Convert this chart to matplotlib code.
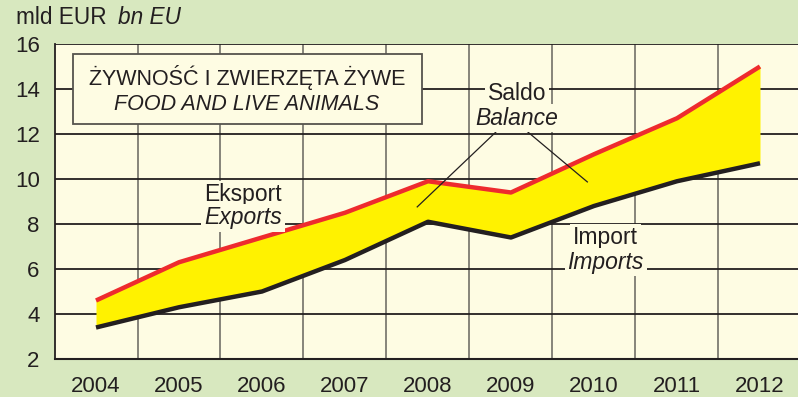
import numpy as np
import matplotlib.pyplot as plt
from matplotlib.patches import Rectangle

# ---------------------------------------------------------
# DATA (mld EUR)
# ---------------------------------------------------------
years = [2004, 2005, 2006, 2007, 2008, 2009, 2010, 2011, 2012]
exports = [4.6, 6.3, 7.4, 8.5, 9.9, 9.4, 11.1, 12.7, 15.0]
imports = [3.4, 4.3, 5.0, 6.4, 8.1, 7.4, 8.8, 9.9, 10.7]
y_ticks = [2, 4, 6, 8, 10, 12, 14, 16]

# ---------------------------------------------------------
# STYLE
# ---------------------------------------------------------
BG = '#d8e8bf'
PLOT_BG = '#fefce3'
YELLOW = '#fff200'
RED = '#ee2b2e'
DARK = '#231f20'
GRID_V = '#7d7b72'

plt.rcParams['font.family'] = ['Liberation Sans', 'DejaVu Sans']

fig = plt.figure(figsize=(7.98, 3.97), dpi=100, facecolor=BG)
ax = fig.add_axes([55 / 798, 1 - 359 / 397, 743 / 798, 315 / 397])
ax.set_facecolor(PLOT_BG)

ax.set_xlim(2003.506, 2012.458)
ax.set_ylim(2, 16)

# grid: dark horizontal lines, grey vertical lines between years
for y in y_ticks[1:]:
    ax.axhline(y, color=DARK, lw=1.3, zorder=1)
for x in np.arange(2004.5, 2012.5, 1.0):
    ax.axvline(x, color=GRID_V, lw=1.3, zorder=0.9)

ax.fill_between(years, imports, exports, color=YELLOW, lw=0, zorder=2)
ax.plot(years, exports, color=RED, lw=3.2, zorder=3, solid_capstyle='butt')
ax.plot(years, imports, color=DARK, lw=3.2, zorder=3, solid_capstyle='butt')

for side in ['top', 'right']:
    ax.spines[side].set_visible(False)
ax.spines['left'].set_color(DARK)
ax.spines['bottom'].set_color(DARK)
ax.spines['left'].set_linewidth(1.3)
ax.spines['bottom'].set_linewidth(1.5)

ax.set_xticks(years)
ax.set_xticklabels([str(y) for y in years])
ax.set_yticks(y_ticks)
ax.tick_params(axis='both', length=0, labelsize=16, colors=DARK)
ax.tick_params(axis='x', pad=12)
ax.tick_params(axis='y', pad=11)

# title box
ax.add_patch(Rectangle((0.0238, 0.745), 0.4697, 0.222, transform=ax.transAxes,
                       facecolor=PLOT_BG, edgecolor='#55534d', lw=1.3, zorder=4))
ax.text(2005.82, 14.53, 'ŻYWNOŚĆ I ZWIERZĘTA ŻYWE', ha='center', va='center',
        fontsize=15.5, color=DARK, zorder=5)
ax.text(2005.82, 13.29, 'FOOD AND LIVE ANIMALS', ha='center', va='center',
        fontsize=15.5, style='italic', color=DARK, zorder=5)

# series labels with background patches over the grid
label_box = dict(facecolor=PLOT_BG, edgecolor='none', pad=2)


def two_line_label(x, y_top, y_bot, top, bottom):
    ax.text(x, y_top, top, ha='center', va='center', fontsize=16.5,
            color=DARK, zorder=5, bbox=label_box)
    ax.text(x, y_bot, bottom, ha='center', va='center', fontsize=16.5,
            style='italic', color=DARK, zorder=5, bbox=label_box)


two_line_label(2005.77, 9.29, 8.27, 'Eksport', 'Exports')
two_line_label(2009.07, 13.78, 12.71, 'Saldo', 'Balance')
two_line_label(2010.14, 7.38, 6.31, 'Import', 'Imports')

# leader lines from "Balance" into the filled area
ax.plot([2008.83, 2007.87], [12.13, 8.76], color=DARK, lw=0.9, zorder=4)
ax.plot([2009.19, 2009.92], [12.13, 9.87], color=DARK, lw=0.9, zorder=4)

# unit caption
fig.text(16 / 798, 1 - 18 / 397, 'mld EUR', ha='left', va='center',
         fontsize=16.3, color=DARK)
fig.text(118 / 798, 1 - 18 / 397, 'bn EU', ha='left', va='center',
         fontsize=16.3, style='italic', color=DARK)

fig.savefig('out.png', dpi=100, facecolor=BG)
